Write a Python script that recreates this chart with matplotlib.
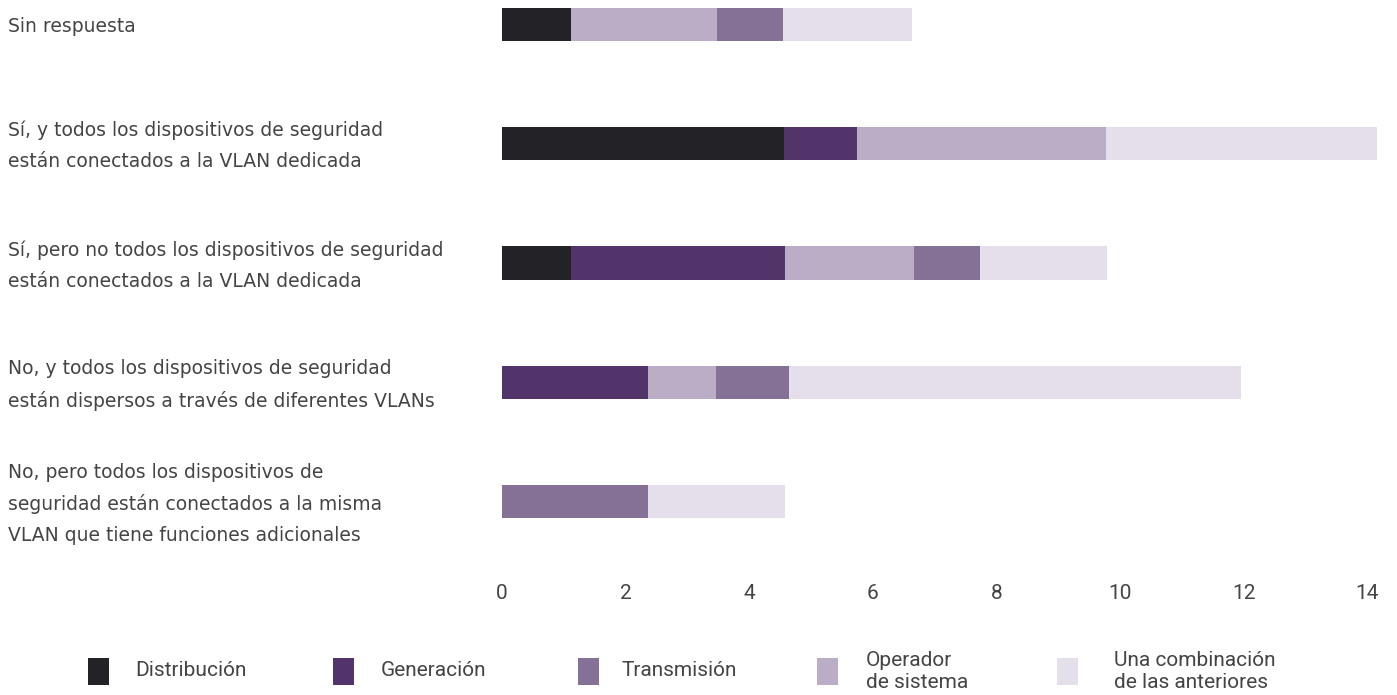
import matplotlib
matplotlib.use('Agg')
import matplotlib.pyplot as plt
from matplotlib.patches import Rectangle
from matplotlib.transforms import ScaledTranslation
import numpy as np


categories = [
    'Sin respuesta',
    'Sí, y todos los dispositivos de seguridad\nestán conectados a la VLAN dedicada',
    'Sí, pero no todos los dispositivos de seguridad\nestán conectados a la VLAN dedicada',
    'No, y todos los dispositivos de seguridad\nestán dispersos a través de diferentes VLANs',
    'No, pero todos los dispositivos de\nseguridad están conectados a la misma\nVLAN que tiene funciones adicionales',
]

series_names = ['Distribución', 'Generación', 'Transmisión', 'Operador\nde sistema',
                'Una combinación\nde las anteriores']

distribucion = [1.11, 4.56, 1.11, 0.0, 0.0]
generacion = [0.0, 1.18, 3.46, 2.36, 0.0]
transmision = [1.08, 0.0, 1.07, 1.18, 2.36]
operador = [2.36, 4.03, 2.10, 1.10, 0.0]
combinacion = [2.09, 4.38, 2.04, 7.32, 2.21]

# order in which the segments are stacked along each bar
stack_order = {
    0: ['dist', 'oper', 'trans', 'comb'],
    1: ['dist', 'gen', 'oper', 'comb'],
    2: ['dist', 'gen', 'oper', 'trans', 'comb'],
    3: ['gen', 'oper', 'trans', 'comb'],
    4: ['trans', 'comb'],
}

x_ticks = [0, 2, 4, 6, 8, 10, 12, 14]

colors = {
    'dist': '#232227',
    'gen': '#52346b',
    'trans': '#857096',
    'oper': '#baadc5',
    'comb': '#e5dfeb',
}
values = {
    'dist': distribucion,
    'gen': generacion,
    'trans': transmision,
    'oper': operador,
    'comb': combinacion,
}
legend_keys = ['dist', 'gen', 'trans', 'oper', 'comb']

plt.rcParams['font.family'] = ['Roboto', 'DejaVu Sans']
text_color = '#444444'

fig = plt.figure(figsize=(13.97, 6.95), dpi=100)
ax = fig.add_axes([502 / 1397, 135 / 695, 884 / 1397, 560 / 695])

y = np.arange(len(categories))
for i in range(len(categories)):
    left = 0.0
    for key in stack_order[i]:
        w = values[key][i]
        ax.barh(y[i], w, left=left, height=0.277, color=colors[key], linewidth=0)
        left += w

ax.set_xlim(0, 14.3)
ax.set_ylim(4.49, -0.205)
ax.set_xticks(x_ticks)
ax.set_xticklabels([str(t) for t in x_ticks], fontsize=15, color=text_color)
ax.set_yticks(y)
ax.set_yticklabels(categories, fontsize=13.5, color=text_color, ha='left', va='center',
                   linespacing=1.8, family='DejaVu Sans')
ax.tick_params(axis='x', length=0, pad=17)
ax.tick_params(axis='y', length=0, pad=356)
# nudge the category labels down a little
shift = ScaledTranslation(0, -2.5 / 100, fig.dpi_scale_trans)
for lbl in ax.get_yticklabels():
    lbl.set_transform(lbl.get_transform() + shift)
for s in ax.spines.values():
    s.set_visible(False)

# legend drawn along the bottom of the figure
legend_x = [88, 333, 578, 817, 1057]
text_x = [135, 381, 622, 866, 1114]
for k, sx, tx in zip(legend_keys, legend_x, text_x):
    fig.add_artist(Rectangle((sx / 1397, 10 / 695), 21 / 1397, 27 / 695,
                             transform=fig.transFigure, color=colors[k], linewidth=0))
    fig.text(tx / 1397, 24 / 695, series_names[legend_keys.index(k)], fontsize=15,
             color=text_color, va='center', ha='left', linespacing=1.2)

fig.savefig('out.png', dpi=100)
